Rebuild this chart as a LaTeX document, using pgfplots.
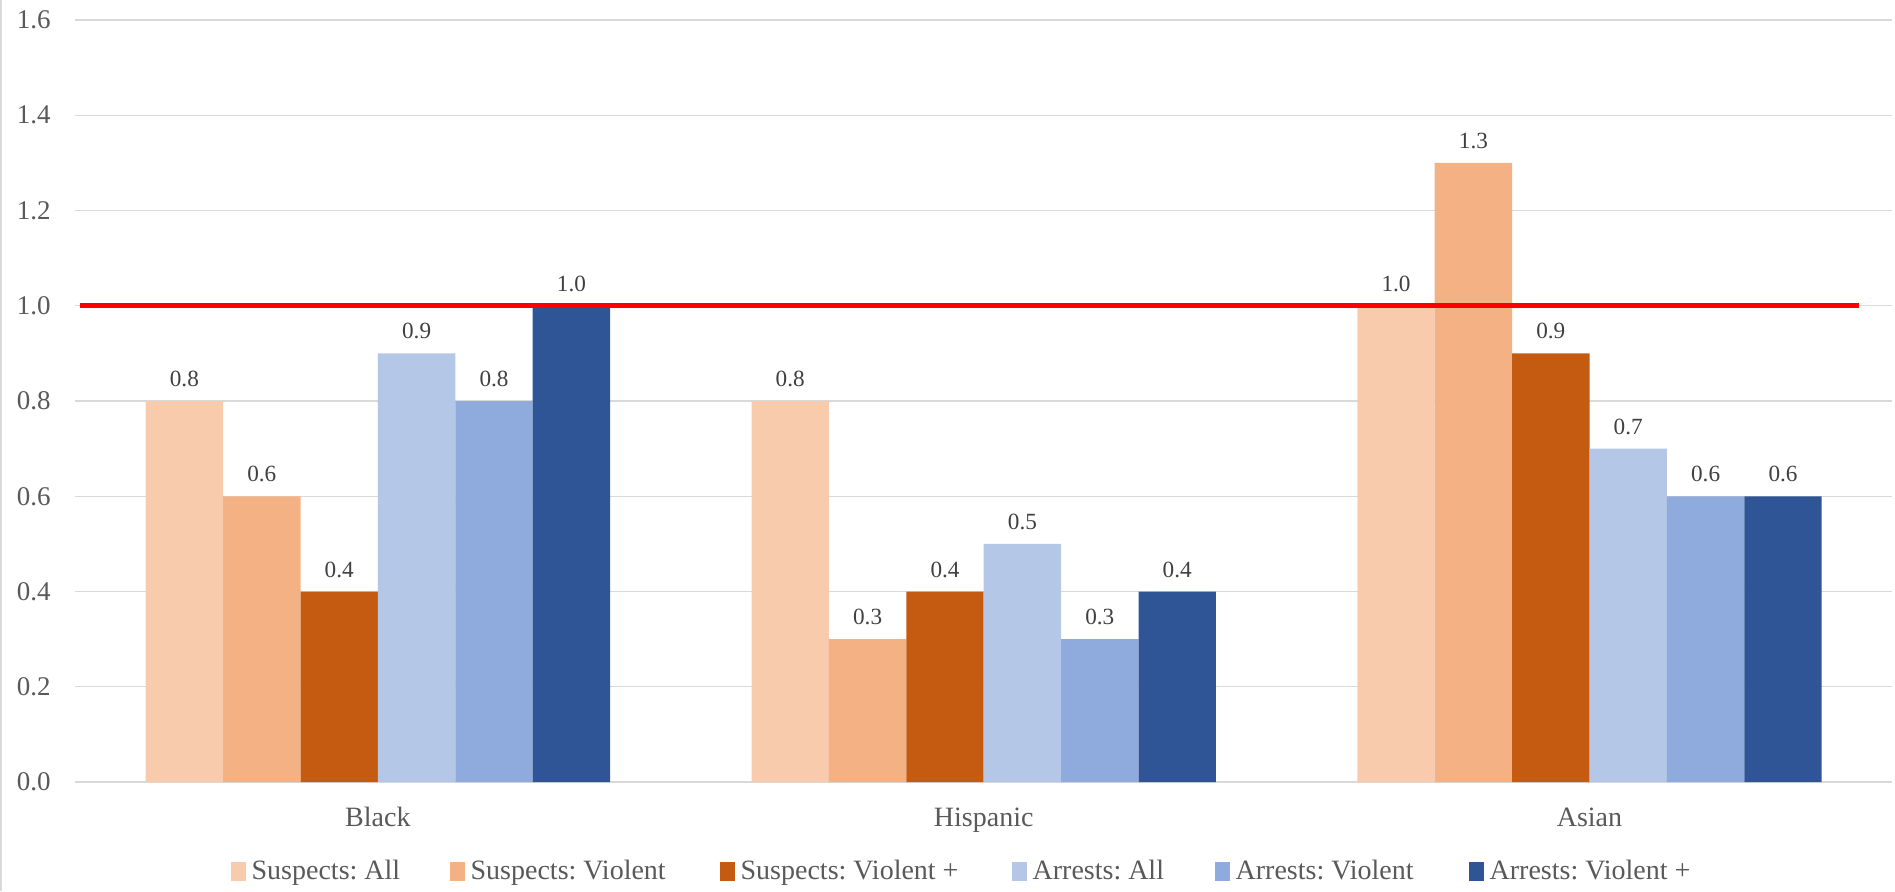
\documentclass[border=0pt]{standalone}
\usepackage{fontspec}
\setmainfont{Liberation Serif}
\usepackage{pgfplots}
\usepackage{pgfplotstable}
\pgfplotsset{compat=1.18}
\frenchspacing

\definecolor{gridgray}{HTML}{D9D9D9}
\definecolor{ticktext}{HTML}{595959}
\definecolor{labeltext}{HTML}{404040}
\definecolor{susAll}{HTML}{F8CBAD}
\definecolor{susViol}{HTML}{F4B183}
\definecolor{susViolPlus}{HTML}{C55A11}
\definecolor{arrAll}{HTML}{B4C7E7}
\definecolor{arrViol}{HTML}{8FAADC}
\definecolor{arrViolPlus}{HTML}{2F5597}

% ratios by group: 0 = Black, 1 = Hispanic, 2 = Asian
\pgfplotstableread{
cat sa  sv  svp aa  av  avp
0   0.8 0.6 0.4 0.9 0.8 1.0
1   0.8 0.3 0.4 0.5 0.3 0.4
2   1.0 1.3 0.9 0.7 0.6 0.6
}\ratios

% legend entry set in a box of fixed width
\newcommand{\entry}[2]{\makebox[#1][l]{#2}}

\pgfplotsset{
  bars/.style 2 args={
    ybar, draw=none, fill=#1,
    bar width=38.7pt, bar shift=#2,
    point meta=y,
    nodes near coords={\pgfmathprintnumber[fixed,fixed zerofill,precision=1,assume math mode=true]{\pgfplotspointmeta}},
    every node near coord/.append style={
      anchor=base, xshift=#2, yshift=7.2pt, inner sep=0pt,
      font=\fontsize{11.6pt}{13pt}\selectfont, text=labeltext},
    legend image code/.code={%
      \path (0pt,-4.75pt) rectangle (7.5pt,4.75pt);
      \fill[##1] (0pt,-2.75pt) rectangle (7.5pt,4.75pt);},
  },
}

\begin{document}
\begin{tikzpicture}
\useasboundingbox (-37.5pt,-54.5pt) rectangle (910pt,391pt);
\draw[gridgray, line width=0.8pt] (-37.1pt,-54.5pt) -- (-37.1pt,391pt);
\begin{axis}[
  at={(0pt,0pt)}, anchor=south west,
  scale only axis, width=908.7pt, height=381pt,
  xmin=-0.5, xmax=2.5, ymin=0, ymax=1.6,
  xtick={0,1,2}, xticklabels={Black,Hispanic,Asian},
  ytick={0,0.2,0.4,0.6,0.8,1.0,1.2,1.4,1.6},
  ymajorgrids, grid style={draw=gridgray, line width=0.7pt},
  axis x line*=bottom, axis y line*=left,
  y axis line style={draw=none},
  x axis line style={draw=gridgray, line width=1pt},
  major tick length=0pt,
  xtick style={draw=none}, ytick style={draw=none},
  /pgf/number format/assume math mode=true,
  y tick label style={
    /pgf/number format/fixed, /pgf/number format/fixed zerofill,
    /pgf/number format/precision=1,
    anchor=east, xshift=-12pt, inner sep=0pt,
    font=\fontsize{13.5pt}{16pt}\selectfont, text=ticktext},
  x tick label style={
    anchor=base, yshift=-22.3pt, inner sep=0pt,
    font=\fontsize{14pt}{16.8pt}\selectfont, text=ticktext},
  legend columns=6,
  legend style={
    at={(axis description cs:0.4887,-0.1173)}, anchor=center,
    draw=none, fill=none, inner sep=0pt, outer sep=0pt,
    font=\fontsize{14pt}{16.8pt}\selectfont, text=ticktext,
    nodes={inner sep=0pt},
    /tikz/every odd column/.append style={column sep=3pt},
    /tikz/every even column/.append style={column sep=24pt}},
]
\addplot[bars={susAll}{-96.75pt}]      table[x=cat, y=sa]  {\ratios};
\addlegendentry{\entry{75pt}{Suspects: All}}
\addplot[bars={susViol}{-58.05pt}]     table[x=cat, y=sv]  {\ratios};
\addlegendentry{\entry{100.5pt}{Suspects: Violent}}
\addplot[bars={susViolPlus}{-19.35pt}] table[x=cat, y=svp] {\ratios};
\addlegendentry{\entry{111.5pt}{Suspects: Violent +}}
\addplot[bars={arrAll}{19.35pt}]       table[x=cat, y=aa]  {\ratios};
\addlegendentry{\entry{67pt}{Arrests: All}}
\addplot[bars={arrViol}{58.05pt}]      table[x=cat, y=av]  {\ratios};
\addlegendentry{\entry{92.5pt}{Arrests: Violent}}
\addplot[bars={arrViolPlus}{96.75pt}]  table[x=cat, y=avp] {\ratios};
\addlegendentry{\entry{103pt}{Arrests: Violent +}}
% parity reference line at 1.0
\addplot[forget plot, sharp plot, draw=red, line width=2.5pt]
  coordinates {(-0.491,1) (2.445,1)};
\end{axis}
\end{tikzpicture}
\end{document}
